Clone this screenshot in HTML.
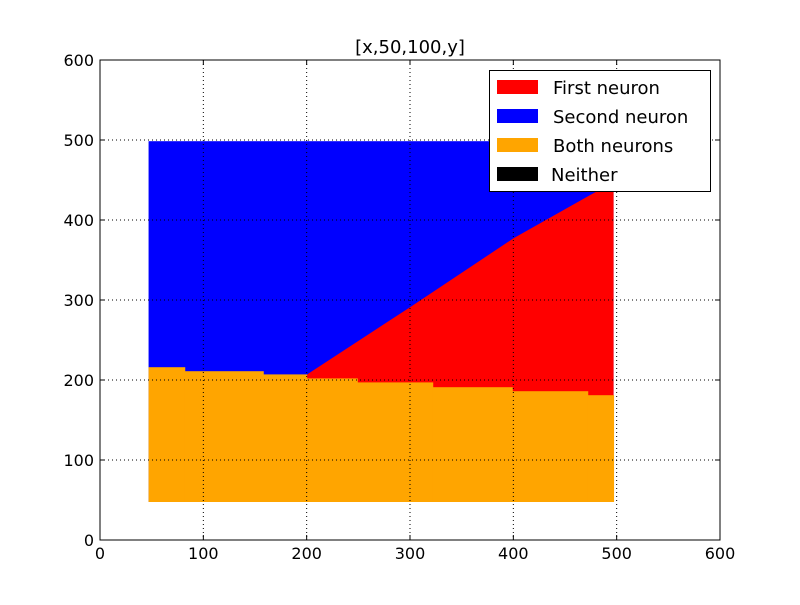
<!DOCTYPE html>
<html><head><meta charset="utf-8"><style>
body{margin:0;background:#fff;width:800px;height:600px;overflow:hidden}
svg{font-family:"DejaVu Sans","Liberation Sans",sans-serif}
</style></head><body>
<svg width="800" height="600" xmlns="http://www.w3.org/2000/svg">
<rect width="800" height="600" fill="#fff"/>
<g id="plot"></g>
<g id="axes"></g>
</svg>
<script>
const xTicks=[0,100,200,300,400,500,600];
const yTicks=[0,100,200,300,400,500,600];
const stepX=[47,82,158,200,249,322,399,472,497];
const bothTop=[216,211,207,202,197,191,186,181];
const gridBottom=47.5, gridTop=498.5;
const firstLineX=[197,300,400,474,497];
const firstLineY=[204,291,377,431,447];
const title="[x,50,100,y]";
const legendLabels=["First neuron","Second neuron","Both neurons","Neither"];
const legendColors=["#ff0000","#0000ff","#ffa500","#000000"];

const NS="http://www.w3.org/2000/svg";
const X=v=>100+v*620/600, Y=v=>540-v*480/600;
function mk(tag,at,parent){const e=document.createElementNS(NS,tag);for(const k in at)e.setAttribute(k,at[k]);parent.appendChild(e);return e;}
const plot=document.getElementById('plot'), axes=document.getElementById('axes');

let b=mk('rect',{x:X(stepX[0]),y:Y(gridTop),width:X(stepX[stepX.length-1])-X(stepX[0]),height:Y(gridBottom)-Y(gridTop),fill:'#0000ff'},plot);


let pts=firstLineX.map((x,i)=>[X(x),Y(firstLineY[i])]);
pts.push([X(firstLineX[firstLineX.length-1]),Y(gridBottom)],[X(firstLineX[0]),Y(gridBottom)]);
let r=mk('polygon',{points:pts.map(p=>p.join(',')).join(' '),fill:'#ff0000'},plot);


for(let i=0;i<bothTop.length;i++){
  let o=mk('rect',{x:X(stepX[i]),y:Y(bothTop[i]),width:X(stepX[i+1])-X(stepX[i])+0.5,height:Y(gridBottom)-Y(bothTop[i]),fill:'#ffa500'},plot);
  
  
}
xTicks.forEach(v=>{let l=mk('line',{x1:X(v),x2:X(v),y1:60,y2:540,stroke:'#000','stroke-dasharray':'1,3','stroke-width':1},axes);});
yTicks.forEach(v=>{let l=mk('line',{x1:100,x2:720,y1:Y(v),y2:Y(v),stroke:'#000','stroke-dasharray':'1,3','stroke-width':1},axes);});
let f=mk('rect',{x:100,y:60,width:620,height:480,fill:'none',stroke:'#000','stroke-width':1},axes);


xTicks.forEach(v=>{
  mk('line',{x1:X(v),x2:X(v),y1:540,y2:535,stroke:'#000'},axes);
  mk('line',{x1:X(v),x2:X(v),y1:60,y2:65,stroke:'#000'},axes);
  let t=mk('text',{x:X(v),y:559,'text-anchor':'middle','font-size':16},axes);t.textContent=v;
  
  
});
yTicks.forEach(v=>{
  mk('line',{x1:100,x2:105,y1:Y(v),y2:Y(v),stroke:'#000'},axes);
  mk('line',{x1:720,x2:715,y1:Y(v),y2:Y(v),stroke:'#000'},axes);
  let t=mk('text',{x:94,y:Y(v)+6,'text-anchor':'end','font-size':16},axes);t.textContent=v;
  
  
});
let tt=mk('text',{x:410,y:53,'text-anchor':'middle','font-size':18},axes);tt.textContent=title;


let lg=mk('g',{},axes);


mk('rect',{x:489.5,y:70.5,width:221,height:121,fill:'#fff',stroke:'#000'},lg);
legendLabels.forEach((s,i)=>{
  let y=87+i*29;
  let sw=mk('rect',{x:497,y:y-7,width:41,height:14,fill:legendColors[i]},lg);
  
  
  let t=mk('text',{x:i==3?551:553,y:y+7,'font-size':18},lg);t.textContent=s;
  
  
});
</script>
</body></html>
